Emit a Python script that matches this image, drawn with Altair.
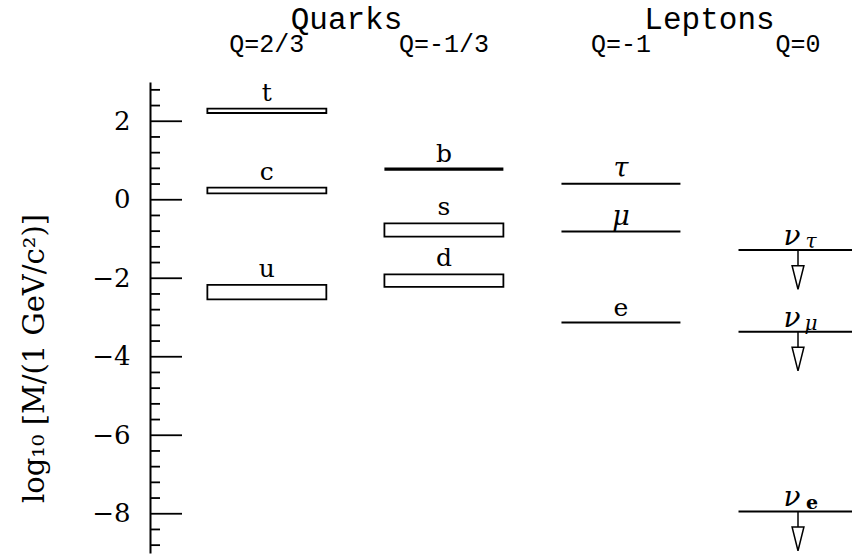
import altair as alt
import pandas as pd

# Column layout: 0 = up-type quarks, 1 = down-type quarks, 2 = charged leptons, 3 = neutrinos
charge_labels = ["Q=2/3", "Q=-1/3", "Q=-1", "Q=0"]
charge_cols = [0, 1, 2, 3]
group_labels = ["Quarks", "Leptons"]
group_cols = [0.45, 2.5]

# Quark mass bands, log10(M / 1 GeV/c^2)
band_names = ["t", "c", "u", "s", "d"]
band_cols = [0, 0, 0, 1, 1]
band_lo = [2.21, 0.16, -2.54, -0.94, -2.22]
band_hi = [2.32, 0.31, -2.17, -0.60, -1.90]

# Masses known well enough to be drawn as a single level
level_names = ["b", "τ", "μ", "e"]
level_cols = [1, 2, 2, 2]
level_vals = [0.78, 0.41, -0.81, -3.13]
level_greek = [False, True, True, False]

# Neutrino mass upper limits
nu_flavours = ["τ", "μ", "e"]
nu_cols = [3, 3, 3]
nu_vals = [-1.28, -3.36, -7.94]
nu_greek = [True, True, False]

# Axis ticks
major_ticks = [-8, -6, -4, -2, 0, 2]
minor_ticks = [round(-8.8 + 0.4 * i, 1) for i in range(30)]
minor_ticks = [t for t in minor_ticks if t not in major_ticks]

HALF = 0.336          # half width of a level, in column units
STEM = 0.4            # arrow stem length, in log10 units
HEAD_MID = 0.7        # arrow head centre below the limit

SERIF = "DejaVu Serif"
MONO = "Liberation Mono"

bands = pd.DataFrame({"name": band_names, "col": band_cols, "lo": band_lo, "hi": band_hi})
bands["x1"] = bands["col"] - HALF
bands["x2"] = bands["col"] + HALF

levels = pd.DataFrame({"name": level_names, "col": level_cols, "v": level_vals, "greek": level_greek})
levels["x1"] = levels["col"] - HALF
levels["x2"] = levels["col"] + HALF

nus = pd.DataFrame({"flav": nu_flavours, "col": nu_cols, "v": nu_vals, "greek": nu_greek})
nus["x1"] = nus["col"] - HALF
nus["x2"] = nus["col"] + HALF
nus["stem_end"] = nus["v"] - STEM
nus["head"] = nus["v"] - HEAD_MID
nus["nu"] = "ν"

charges = pd.DataFrame({"label": charge_labels, "col": charge_cols})
groups = pd.DataFrame({"label": group_labels, "col": group_cols})
majors = pd.DataFrame({"v": major_ticks})
minors = pd.DataFrame({"v": minor_ticks})

xs = alt.Scale(domain=[-0.66, 3.305], nice=False, zero=False)
ys = alt.Scale(domain=[-9, 3], nice=False, zero=False)
X = lambda f: alt.X(f, scale=xs, axis=None)
Y = lambda f: alt.Y(f, scale=ys, axis=None)

y_axis = alt.Axis(
    values=major_ticks, ticks=False, grid=False, format="d",
    labelFont=SERIF, labelFontSize=26, labelColor="black", labelPadding=20,
    domainColor="black", domainWidth=2,
    title="log₁₀ [M/(1 GeV/c²)]", titleFont=SERIF, titleFontSize=29,
    titleFontWeight="normal", titleColor="black", titleAngle=270,
    titleAlign="center", titleBaseline="middle", titleX=-116, titleY=276,
)

# Vertical axis: domain line and labels; tick marks are drawn as rules pointing inward
axis_layer = alt.Chart(majors).mark_rule(color="black", strokeWidth=1.8).encode(
    y=alt.Y("v:Q", scale=ys, axis=y_axis), x=alt.value(0), x2=alt.value(32)
)
minor_rules = alt.Chart(minors).mark_rule(color="black", strokeWidth=1.8).encode(
    y=Y("v:Q"), x=alt.value(0), x2=alt.value(10)
)

boxes = alt.Chart(bands).mark_rect(fill="white", stroke="black", strokeWidth=1.8).encode(
    x=X("x1:Q"), x2="x2:Q", y=Y("lo:Q"), y2="hi:Q",
)
box_labels = alt.Chart(bands).mark_text(
    font=SERIF, fontSize=25, baseline="alphabetic", dy=-8, color="black"
).encode(x=X("col:Q"), y=Y("hi:Q"), text="name:N")

thin_levels = alt.Chart(levels).transform_filter(alt.datum.name != "b").mark_rule(
    color="black", strokeWidth=2
).encode(x=X("x1:Q"), x2="x2:Q", y=Y("v:Q"))
thick_levels = alt.Chart(levels).transform_filter(alt.datum.name == "b").mark_rule(
    color="black", strokeWidth=3.2
).encode(x=X("x1:Q"), x2="x2:Q", y=Y("v:Q"))
level_latin = alt.Chart(levels).transform_filter(~alt.datum.greek).mark_text(
    font=SERIF, fontSize=25, baseline="alphabetic", dy=-7, color="black"
).encode(x=X("col:Q"), y=Y("v:Q"), text="name:N")
level_greek_txt = alt.Chart(levels).transform_filter(alt.datum.greek).mark_text(
    font=SERIF, fontSize=27, fontStyle="italic", baseline="alphabetic", dy=-7, color="black"
).encode(x=X("col:Q"), y=Y("v:Q"), text="name:N")

nu_lines = alt.Chart(nus).mark_rule(color="black", strokeWidth=2).encode(
    x=X("x1:Q"), x2="x2:Q", y=Y("v:Q")
)
nu_stems = alt.Chart(nus).mark_rule(color="black", strokeWidth=1.5).encode(
    x=X("col:Q"), y=Y("v:Q"), y2="stem_end:Q"
)
nu_heads = alt.Chart(nus).mark_point(
    shape="M-0.5,-1L0.5,-1L0,1Z", size=560, fill="white", fillOpacity=1,
    stroke="black", strokeWidth=1.5, opacity=1,
).encode(x=X("col:Q"), y=Y("head:Q"))
nu_main = alt.Chart(nus).mark_text(
    font=SERIF, fontSize=28, fontStyle="italic", baseline="alphabetic",
    dx=-6, dy=-5, color="black",
).encode(x=X("col:Q"), y=Y("v:Q"), text="nu:N")
nu_sub_greek = alt.Chart(nus).transform_filter(alt.datum.greek).mark_text(
    font=SERIF, fontSize=20, fontStyle="italic", baseline="alphabetic",
    dx=13, dy=-2, color="black",
).encode(x=X("col:Q"), y=Y("v:Q"), text="flav:N")
nu_sub_latin = alt.Chart(nus).transform_filter(~alt.datum.greek).mark_text(
    font=SERIF, fontSize=19, fontWeight="bold", baseline="alphabetic",
    dx=14, dy=-2, color="black",
).encode(x=X("col:Q"), y=Y("v:Q"), text="flav:N")

group_text = alt.Chart(groups).mark_text(
    font=MONO, fontSize=31, baseline="alphabetic", color="black"
).encode(x=X("col:Q"), y=alt.value(-53), text="label:N")
charge_text = alt.Chart(charges).mark_text(
    font=MONO, fontSize=25, baseline="alphabetic", color="black"
).encode(x=X("col:Q"), y=alt.value(-30), text="label:N")

chart = alt.layer(
    axis_layer, minor_rules, boxes, box_labels, thin_levels, thick_levels,
    level_latin, level_greek_txt, nu_lines, nu_stems, nu_heads, nu_main,
    nu_sub_greek, nu_sub_latin, group_text, charge_text,
).resolve_axis(y="independent").properties(
    width=702, height=471,
    autosize=alt.AutoSizeParams(type="none"),
    padding={"left": 150, "top": 82, "right": 0, "bottom": 2},
    background="white",
).configure_view(strokeWidth=0)

chart.save("out.html", embed_options={"renderer": "svg", "actions": False})
